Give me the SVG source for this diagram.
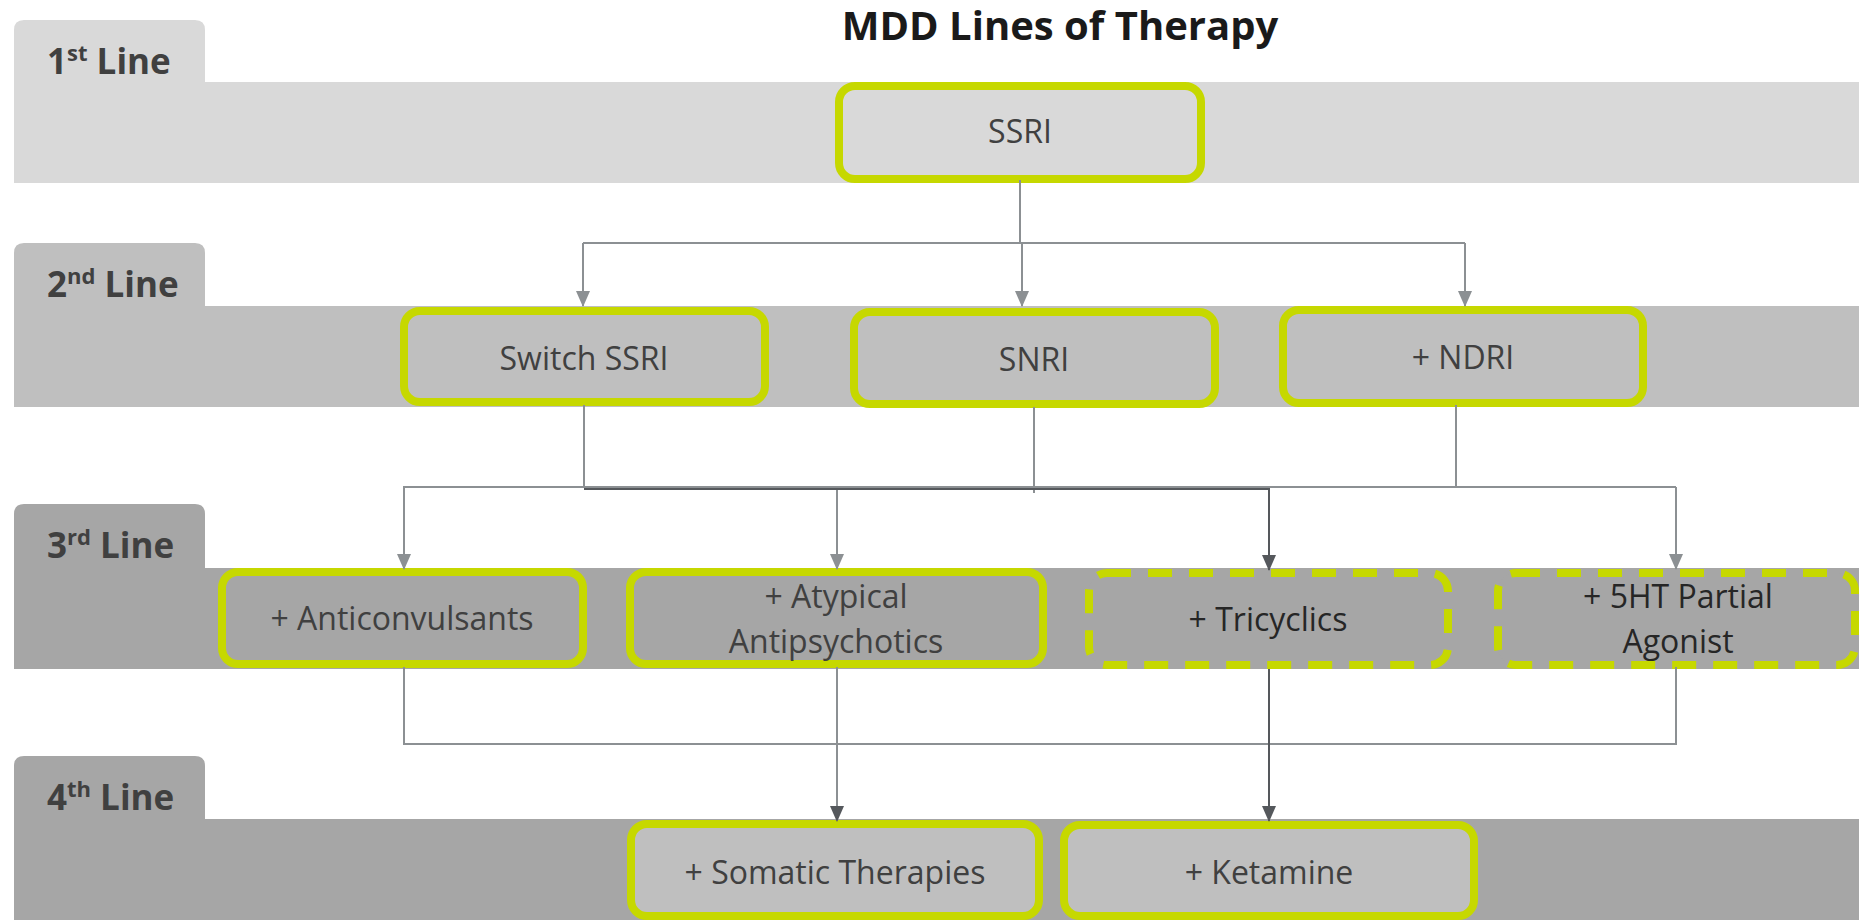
<svg xmlns="http://www.w3.org/2000/svg" width="1859" height="920" viewBox="0 0 1859 920">
<defs>
<style>
.title{font-family:"Open Sans","Liberation Sans",sans-serif;font-weight:700;font-size:40px;fill:#1a1a1a;text-anchor:middle}
.tab{font-family:"Open Sans","Liberation Sans",sans-serif;font-weight:700;font-size:35px;fill:#404040}
.sup{font-size:22px}
.lbl{font-family:"Open Sans","Liberation Sans",sans-serif;font-size:32px;fill:#404040;text-anchor:middle}
.dk{fill:#262626}
.box{stroke:#c6d800;stroke-width:8}
.dash{stroke-dasharray:24 17}
.ln{fill:none;stroke:#8c9093;stroke-width:2}
.lnd{fill:none;stroke:#55585c;stroke-width:2}
</style>
<marker id="al" markerWidth="16" markerHeight="14" refX="15" refY="7" orient="auto" markerUnits="userSpaceOnUse" viewBox="0 0 16 14">
<path d="M0,0 L16,7 L0,14 Z" fill="#8c9093"/>
</marker>
<marker id="ad" markerWidth="16" markerHeight="14" refX="15" refY="7" orient="auto" markerUnits="userSpaceOnUse" viewBox="0 0 16 14">
<path d="M0,0 L16,7 L0,14 Z" fill="#55585c"/>
</marker>
</defs>
<rect width="1859" height="920" fill="#ffffff"/>
<text class="title" x="1060" y="40">MDD Lines of Therapy</text>

<g id="band1">
<path d="M14,30 Q14,20 24,20 L195,20 Q205,20 205,30 L205,82 L1859,82 L1859,183 L14,183 Z" fill="#d9d9d9"/>
<text class="tab" x="47" y="74">1<tspan class="sup" dy="-13">st</tspan><tspan dy="13"> Line</tspan></text>
</g>
<g id="band2">
<path d="M14,253 Q14,243 24,243 L195,243 Q205,243 205,253 L205,306 L1859,306 L1859,407 L14,407 Z" fill="#bfbfbf"/>
<text class="tab" x="47" y="297">2<tspan class="sup" dy="-13">nd</tspan><tspan dy="13"> Line</tspan></text>
</g>
<g id="band3">
<path d="M14,514 Q14,504 24,504 L195,504 Q205,504 205,514 L205,568 L1859,568 L1859,669 L14,669 Z" fill="#a6a6a6"/>
<text class="tab" x="47" y="558">3<tspan class="sup" dy="-13">rd</tspan><tspan dy="13"> Line</tspan></text>
</g>
<g id="band4">
<path d="M14,766 Q14,756 24,756 L195,756 Q205,756 205,766 L205,819 L1859,819 L1859,920 L14,920 Z" fill="#a6a6a6"/>
<text class="tab" x="47" y="810">4<tspan class="sup" dy="-13">th</tspan><tspan dy="13"> Line</tspan></text>
</g>

<g id="ssri">
<rect class="box" x="839" y="86" width="362" height="93" rx="16" fill="#d9d9d9"/>
<text class="lbl" x="1020" y="143">SSRI</text>
</g>
<g id="switch-ssri">
<rect class="box" x="404" y="311" width="361" height="91" rx="16" fill="#bfbfbf"/>
<text class="lbl" x="584" y="370">Switch SSRI</text>
</g>
<g id="snri">
<rect class="box" x="854" y="312" width="361" height="92" rx="16" fill="#bfbfbf"/>
<text class="lbl" x="1034" y="371">SNRI</text>
</g>
<g id="ndri">
<rect class="box" x="1283" y="310" width="360" height="93" rx="16" fill="#bfbfbf"/>
<text class="lbl" x="1463" y="369">+ NDRI</text>
</g>
<g id="anticonvulsants">
<rect class="box" x="222" y="572" width="361" height="92" rx="16" fill="#a6a6a6"/>
<text class="lbl" x="402" y="630">+ Anticonvulsants</text>
</g>
<g id="atypical">
<rect class="box" x="630" y="572" width="413" height="92" rx="16" fill="#a6a6a6"/>
<text class="lbl" x="836" y="608">+ Atypical</text>
<text class="lbl" x="836" y="653">Antipsychotics</text>
</g>
<g id="tricyclics">
<rect class="box dash" x="1089" y="573" width="359" height="92" rx="18" fill="#a6a6a6"/>
<text class="lbl dk" x="1268" y="631">+ Tricyclics</text>
</g>
<g id="5ht">
<rect class="box dash" x="1498" y="573" width="357" height="92" rx="18" fill="#a6a6a6"/>
<text class="lbl dk" x="1678" y="608">+ 5HT Partial</text>
<text class="lbl dk" x="1678" y="653">Agonist</text>
</g>
<g id="somatic">
<rect class="box" x="631" y="824" width="408" height="92" rx="16" fill="#bfbfbf"/>
<text class="lbl" x="835" y="884">+ Somatic Therapies</text>
</g>
<g id="ketamine">
<rect class="box" x="1064" y="825" width="410" height="91" rx="16" fill="#bfbfbf"/>
<text class="lbl" x="1269" y="884">+ Ketamine</text>
</g>

<g id="connectors">
<path class="ln" d="M1020,180 L1020,243"/>
<path class="ln" d="M583,243 L1465,243"/>
<path class="ln" d="M583,243 L583,306" marker-end="url(#al)"/>
<path class="ln" d="M1022,243 L1022,306" marker-end="url(#al)"/>
<path class="ln" d="M1465,243 L1465,306" marker-end="url(#al)"/>

<path class="ln" d="M584,405 L584,488"/>
<path class="ln" d="M1034,407 L1034,493"/>
<path class="ln" d="M1456,405 L1456,487"/>
<path class="ln" d="M403,487 L1676,487"/>
<path class="ln" d="M404,487 L404,569" marker-end="url(#al)"/>
<path class="ln" d="M837,487 L837,569" marker-end="url(#al)"/>
<path class="ln" d="M1676,487 L1676,569" marker-end="url(#al)"/>
<path class="lnd" d="M584,489 L1269,489 L1269,570" marker-end="url(#ad)"/>

<path class="ln" d="M404,667 L404,744 L1676,744 L1676,667"/>
<path class="ln" d="M837,667 L837,821" marker-end="url(#ad)"/>
<path class="lnd" d="M1269,669 L1269,821" marker-end="url(#ad)"/>
</g>
</svg>
